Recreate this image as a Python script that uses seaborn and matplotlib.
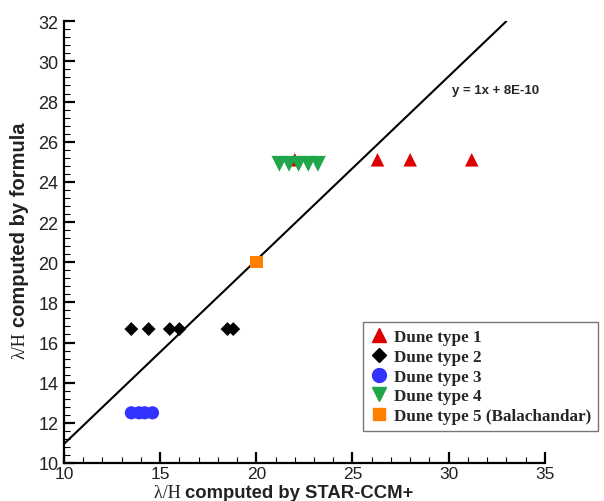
import numpy as np
import pandas as pd
import matplotlib
matplotlib.use("Agg")
import matplotlib.pyplot as plt
import seaborn as sns
from matplotlib.ticker import MultipleLocator
from matplotlib.offsetbox import TextArea, HPacker, AnnotationBbox
from matplotlib.lines import Line2D

# ---- data ----
type1_x = [22.0, 26.3, 28.0, 31.2]
type1_y = [25.1, 25.1, 25.1, 25.1]
type2_x = [13.5, 14.4, 15.5, 16.0, 18.5, 18.8]
type2_y = [16.67, 16.67, 16.67, 16.67, 16.67, 16.67]
type3_x = [13.5, 13.9, 14.2, 14.6]
type3_y = [12.5, 12.5, 12.5, 12.5]
type4_x = [21.2, 21.7, 22.2, 22.7, 23.2]
type4_y = [24.9, 24.9, 24.9, 24.9, 24.9]
type5_x = [20.0]
type5_y = [20.0]
fit_x = [10.0, 33.0]
fit_y = [10.95, 32.0]
labels = ["Dune type 1", "Dune type 2", "Dune type 3", "Dune type 4",
          "Dune type 5 (Balachandar)"]
fit_label = "y = 1x + 8E-10"

sns.set_style("white")
plt.rcParams['font.family'] = ['Liberation Sans', 'DejaVu Sans']

fig = plt.figure(figsize=(6.04, 5.02), dpi=100)
ax = fig.add_axes([0.106, 0.0757, 0.796, 0.880])

sns.lineplot(x=fit_x, y=fit_y, ax=ax, color='black', linewidth=1.5, zorder=2)

colors = ['#dd0000', '#000000', '#3333ff', '#1fa64a', '#ff8000']
markers = ['^', 'D', 'o', 'v', 's']
sizes = [95, 50, 90, 130, 80]
datasets = [(type1_x, type1_y), (type2_x, type2_y), (type3_x, type3_y),
            (type4_x, type4_y), (type5_x, type5_y)]
for (xs, ys), c, m, s in zip(datasets, colors, markers, sizes):
    sns.scatterplot(x=xs, y=ys, ax=ax, color=c, marker=m, s=s,
                    edgecolor='none', linewidth=0, zorder=3)

ax.set_xlim(10, 35)
ax.set_ylim(10, 32)
ax.xaxis.set_major_locator(MultipleLocator(5))
ax.xaxis.set_minor_locator(MultipleLocator(1))
ax.yaxis.set_major_locator(MultipleLocator(2))
ax.yaxis.set_minor_locator(MultipleLocator(0.4))
for s in ['top', 'right']:
    ax.spines[s].set_visible(False)
for s in ['left', 'bottom']:
    ax.spines[s].set_linewidth(1.6)
    ax.spines[s].set_color('black')
ax.tick_params(which='major', direction='in', length=8, width=1.6,
               labelsize=13, labelcolor='#222222', colors='black', pad=4)
ax.tick_params(axis='x', which='major', pad=2, labelsize=12.5)
ax.tick_params(which='minor', direction='in', length=4, width=0.8,
               colors='black')
ax.tick_params(axis='x', which='both', bottom=True)
ax.tick_params(axis='y', which='both', left=True)
ax.set_xlabel('')
ax.set_ylabel('')

fig.text(452/604, 1 - 91/502, fit_label, fontsize=9.5, fontweight='bold',
         va='center', ha='left')

# x label with mixed fonts
xl1 = TextArea("λ/H ", textprops=dict(family='Liberation Serif', fontsize=13,
                                      color='#222222'))
xl2 = TextArea("computed by STAR-CCM+", textprops=dict(family='Liberation Sans',
                                                        fontsize=13.3, fontweight='bold',
                                                        color='#222222'))
xbox = HPacker(children=[xl1, xl2], align='baseline', pad=0, sep=0)
ab = AnnotationBbox(xbox, (284/604, 1 - 494/502), xycoords='figure fraction',
                    frameon=False, box_alignment=(0.5, 0.5), pad=0)
fig.add_artist(ab)

# y label with mixed fonts
fig.text(20/604, 1 - 346/502, "λ/H", family='Liberation Serif', fontsize=13,
         rotation=90, va='center', ha='center', color='#222222')
fig.text(20/604, 1 - 225/502, "computed by formula", family='Liberation Sans',
         fontsize=14.5, fontweight='bold', rotation=90, va='center',
         ha='center', color='#222222')

handles = [Line2D([], [], linestyle='none', marker=m, color=c, markersize=ms)
           for m, c, ms in zip(markers, colors, [10, 7, 10, 10, 9])]
leg = ax.legend(handles, labels, loc='lower right',
                bbox_to_anchor=(598/604, 1 - 432/502), bbox_transform=fig.transFigure,
                prop=dict(family='Liberation Serif', weight='bold', size=12.3),
                frameon=True, fancybox=False, edgecolor='#555555',
                handlelength=1.0, handletextpad=0.4, labelspacing=0.22,
                borderpad=0.4, borderaxespad=0)
leg.get_frame().set_linewidth(1.0)

fig.savefig('out.png', dpi=100)
